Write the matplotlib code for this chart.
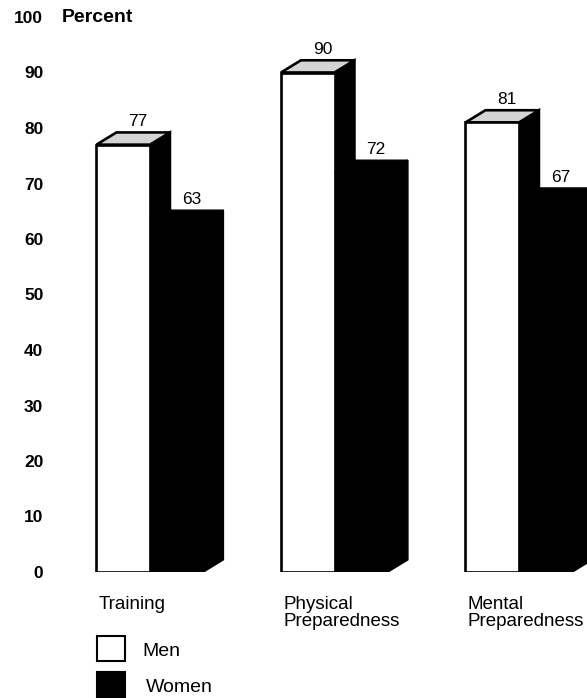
import matplotlib.pyplot as plt
from matplotlib.patches import Polygon, Rectangle

plt.rcParams['font.family'] = ['Liberation Sans', 'DejaVu Sans']

categories = ["Training", "Physical\nPreparedness", "Mental\nPreparedness"]
men = [77, 90, 81]
women = [63, 72, 67]
yticks = list(range(0, 101, 10))

W = 0.29    # bar width (x units)
DX = 0.108  # depth offset in x
DY = 2.2    # depth offset in y (percent)


def bar3d(ax, x0, h, front, top, side, lw):
    x1 = x0 + W
    ax.add_patch(Polygon([(x1, 0), (x1 + DX, DY), (x1 + DX, h + DY), (x1, h)],
                         closed=True, fc=side, ec="black", lw=lw))
    ax.add_patch(Polygon([(x0, h), (x0 + DX, h + DY), (x1 + DX, h + DY), (x1, h)],
                         closed=True, fc=top, ec="black", lw=lw))
    ax.add_patch(Rectangle((x0, 0), W, h, fc=front, ec="black", lw=lw))


fig = plt.figure(figsize=(5.87, 6.98), dpi=100)
ax = fig.add_axes([60 / 587, 1 - 572 / 698, 527 / 587, (572 - 17) / 698])
ax.set_xlim((60 - 150) / 184.5, (587 - 150) / 184.5)
ax.set_ylim(0, 100)

for i in range(len(categories)):
    # men bar (left), women bar (right)
    bar3d(ax, i - W, men[i], "white", "#d4d4d4", "black", 1.9)
    bar3d(ax, i, women[i], "black", "black", "black", 1.0)
    ax.text(i - W / 2 + DX * 0.75, men[i] + DY + 0.6, str(men[i]),
            ha="center", va="bottom", fontsize=12.5)
    ax.text(i + W / 2 + DX * 0.75, women[i] + DY + 0.6, str(women[i]),
            ha="center", va="bottom", fontsize=12.5)
    ax.text(i - W + 0.012, -4.4, categories[i], ha="left", va="top",
            fontsize=13.5, linespacing=0.95)

for s in ax.spines.values():
    s.set_visible(False)
ax.set_xticks([])
ax.set_yticks(yticks)
ax.tick_params(axis="y", length=0, pad=12, labelsize=12.5)
for lab in ax.get_yticklabels():
    lab.set_fontweight("bold")

fig.text(62 / 587, 1 - 18 / 698, "Percent", fontsize=14, fontweight="bold",
         ha="left", va="center")

# legend
fig.add_artist(Rectangle((97 / 587, 1 - 661 / 698), 28 / 587, 25 / 698,
                         transform=fig.transFigure, fc="white", ec="black", lw=1.5))
fig.add_artist(Rectangle((97 / 587, 1 - 697 / 698), 28 / 587, 25 / 698,
                         transform=fig.transFigure, fc="black", ec="black", lw=1.5))
fig.text(142 / 587, 1 - 652 / 698, "Men", fontsize=14, ha="left", va="center")
fig.text(146 / 587, 1 - 688 / 698, "Women", fontsize=14, ha="left", va="center")

fig.savefig("out.png", dpi=100)
